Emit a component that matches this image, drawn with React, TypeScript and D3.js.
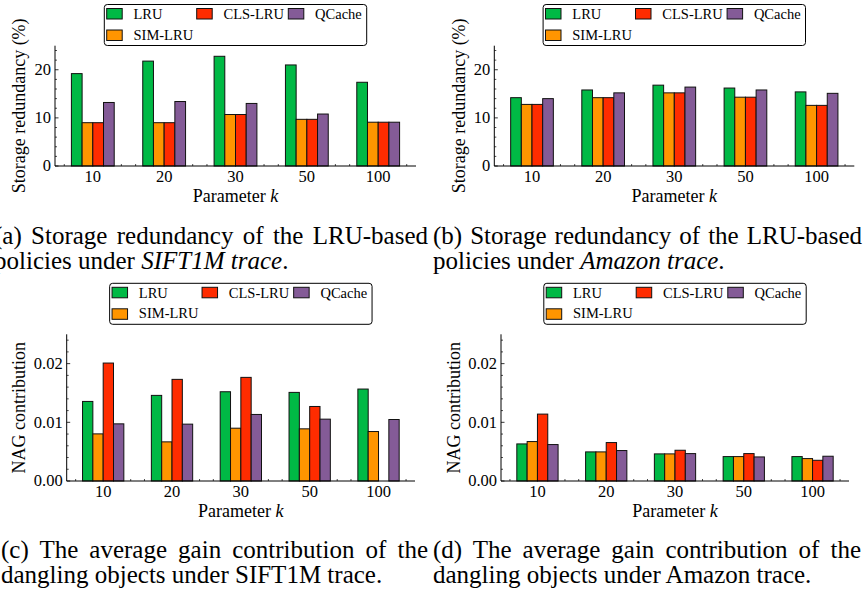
import React, { useLayoutEffect, useRef } from "react";
import * as d3 from "d3";

// ---------- data ----------
const kLabels = ["10", "20", "30", "50", "100"];
const seriesNames = ["LRU", "SIM-LRU", "CLS-LRU", "QCache"];
const seriesColors = ["#00B945", "#FF9500", "#FF2C00", "#845B97"];

// (a) storage redundancy (%) – SIFT1M
const siftRedundancyLRU = [19.2, 21.8, 22.8, 21.0, 17.4];
const siftRedundancySIM = [9.0, 9.0, 10.7, 9.7, 9.1];
const siftRedundancyCLS = [9.0, 9.0, 10.7, 9.7, 9.1];
const siftRedundancyQCache = [13.2, 13.4, 13.0, 10.8, 9.1];

// (b) storage redundancy (%) – Amazon
const amazonRedundancyLRU = [14.2, 15.8, 16.8, 16.2, 15.4];
const amazonRedundancySIM = [12.8, 14.2, 15.2, 14.3, 12.6];
const amazonRedundancyCLS = [12.8, 14.2, 15.2, 14.3, 12.6];
const amazonRedundancyQCache = [14.0, 15.2, 16.4, 15.8, 15.1];

// (c) NAG contribution – SIFT1M
const siftNagLRU = [0.01356, 0.01459, 0.01521, 0.0151, 0.01567];
const siftNagSIM = [0.00803, 0.00667, 0.009, 0.00889, 0.00843];
const siftNagCLS = [0.0201, 0.01732, 0.01766, 0.0127, 0.0];
const siftNagQCache = [0.00974, 0.00969, 0.01134, 0.01054, 0.01048];

// (d) NAG contribution – Amazon
const amazonNagLRU = [0.00632, 0.00496, 0.00462, 0.00416, 0.00416];
const amazonNagSIM = [0.00672, 0.00496, 0.00462, 0.00416, 0.00382];
const amazonNagCLS = [0.0114, 0.00655, 0.00524, 0.00467, 0.00353];
const amazonNagQCache = [0.00621, 0.00519, 0.00467, 0.0041, 0.00422];

const redundancyTicks = [0, 10, 20];
const nagTicks = [0, 0.01, 0.02];

// ---------- styling ----------
const W = 865;
const H = 595;
const SERIF = "Liberation Serif, Times New Roman, serif";

type PanelCfg = {
  x0: number;
  x1: number;
  yTop: number;
  yBase: number;
  yMax: number;
  yTicks: number[];
  yMinorStep: number;
  yFmt: (v: number) => string;
  yLabel: string;
  yLabelX: number;
  legendTop: number;
  series: number[][];
};

function Panel({ p }: { p: PanelCfg }) {
  const xs = d3.scaleLinear().domain([-0.53, 4.53]).range([p.x0, p.x1]);
  const ys = d3.scaleLinear().domain([0, p.yMax]).range([p.yBase, p.yTop]);
  const barW = 0.15;
  const xMajor = d3.range(kLabels.length);
  const xMinor = d3
    .range(-2, 23)
    .map((i) => i * 0.2)
    .filter((v) => Math.abs(v - Math.round(v)) > 1e-6);
  const majorStep = p.yTicks[1] - p.yTicks[0];
  const nMinor = Math.floor(p.yMax / p.yMinorStep + 1e-6);
  const yMinor = d3
    .range(0, nMinor + 1)
    .map((i) => i * p.yMinorStep)
    .filter((v) => Math.abs(v / majorStep - Math.round(v / majorStep)) > 1e-6);

  const cx = (p.x0 + p.x1) / 2;
  const legW = 262.4;
  const legH = 41;
  const lx = cx - legW / 2;
  const ly = p.legendTop;
  const legendItems = [
    { s: 0, col: 0, row: 0 },
    { s: 1, col: 0, row: 1 },
    { s: 2, col: 1, row: 0 },
    { s: 3, col: 2, row: 0 },
  ];
  const colPatchX = [2.4, 92.4, 184];
  const rowPatchY = [4, 25.5];
  const rowTextY = [14.2, 35];

  return (
    <g>
      {/* ticks (drawn below bars) */}
      {xMajor.map((v) => (
        <line key={"xM" + v} x1={xs(v)} x2={xs(v)} y1={p.yBase} y2={p.yBase - 3.5} stroke="#000" strokeWidth={0.8} />
      ))}
      {xMinor.map((v, i) => (
        <line key={"xm" + i} x1={xs(v)} x2={xs(v)} y1={p.yBase} y2={p.yBase - 2} stroke="#000" strokeWidth={0.7} />
      ))}
      {p.yTicks.map((v) => (
        <line key={"yM" + v} x1={p.x0} x2={p.x0 + 3.5} y1={ys(v)} y2={ys(v)} stroke="#000" strokeWidth={0.8} />
      ))}
      {yMinor.map((v, i) => (
        <line key={"ym" + i} x1={p.x0} x2={p.x0 + 2} y1={ys(v)} y2={ys(v)} stroke="#000" strokeWidth={0.7} />
      ))}

      {/* bars */}
      {p.series.map((vals, s) =>
        vals.map((v, i) => {
          const xl = xs(i - 0.3 + s * barW);
          const xr = xs(i - 0.3 + (s + 1) * barW);
          return (
            <rect
              key={`b${s}-${i}`}
              x={xl}
              y={ys(v)}
              width={xr - xl}
              height={ys(0) - ys(v)}
              fill={seriesColors[s]}
              stroke="#111"
              strokeWidth={1}
            />
          );
        })
      )}

      {/* spines */}
      <line x1={p.x0} x2={p.x0} y1={p.yTop} y2={p.yBase} stroke="#000" strokeWidth={1} />
      <line x1={p.x0} x2={p.x1} y1={p.yBase} y2={p.yBase} stroke="#000" strokeWidth={1} />

      {/* tick labels */}
      {xMajor.map((v) => (
        <text key={"xl" + v} x={xs(v)} y={p.yBase + 15.7} textAnchor="middle" fontFamily={SERIF} fontSize={16.5} fill="#000">
          {kLabels[v]}
        </text>
      ))}
      {p.yTicks.map((v) => (
        <text key={"yl" + v} x={p.x0 - 4} y={ys(v)} dy="0.33em" textAnchor="end" fontFamily={SERIF} fontSize={16.5} fill="#000">
          {p.yFmt(v)}
        </text>
      ))}

      {/* axis labels */}
      <text x={cx} y={p.yBase + 35.7} textAnchor="middle" fontFamily={SERIF} fontSize={18} fill="#000">
        Parameter <tspan fontStyle="italic">k</tspan>
      </text>
      <text
        transform={`translate(${p.yLabelX},${(p.yTop + p.yBase) / 2}) rotate(-90)`}
        dy="0.3em"
        textAnchor="middle"
        fontFamily={SERIF}
        fontSize={18}
        fill="#000"
      >
        {p.yLabel}
      </text>

      {/* legend */}
      <rect x={lx} y={ly} width={legW} height={legH} rx={3} ry={3} fill="#fff" stroke="#000" strokeWidth={1} />
      {legendItems.map((it) => (
        <g key={"lg" + it.s}>
          <rect
            x={lx + colPatchX[it.col]}
            y={ly + rowPatchY[it.row]}
            width={15.5}
            height={10.5}
            fill={seriesColors[it.s]}
            stroke="#111"
            strokeWidth={1}
          />
          <text x={lx + colPatchX[it.col] + 26.8} y={ly + rowTextY[it.row]} fontFamily={SERIF} fontSize={14.5} fill="#000">
            {seriesNames[it.s]}
          </text>
        </g>
      ))}
    </g>
  );
}

function JLine({
  x,
  y,
  width,
  justify,
  children,
}: {
  x: number;
  y: number;
  width: number;
  justify: boolean;
  children: React.ReactNode;
}) {
  const ref = useRef<SVGTextElement>(null);
  useLayoutEffect(() => {
    const el = ref.current;
    if (!el || !justify) return;
    el.setAttribute("word-spacing", "0");
    const nat = el.getComputedTextLength();
    const spaces = (el.textContent || "").split(" ").length - 1;
    if (spaces > 0) el.setAttribute("word-spacing", String((width - nat) / spaces));
  }, [width, justify]);
  return (
    <text ref={ref} x={x} y={y} fontFamily={SERIF} fontSize={25} fill="#000">
      {children}
    </text>
  );
}

const redundancyFmt = (v: number) => d3.format("d")(v);
const nagFmt = (v: number) => d3.format(".2f")(v);

const panels: PanelCfg[] = [
  {
    x0: 55,
    x1: 416,
    yTop: 45.7,
    yBase: 166,
    yMax: 25,
    yTicks: redundancyTicks,
    yMinorStep: 2,
    yFmt: redundancyFmt,
    yLabel: "Storage redundancy (%)",
    yLabelX: 20,
    legendTop: 4.5,
    series: [siftRedundancyLRU, siftRedundancySIM, siftRedundancyCLS, siftRedundancyQCache],
  },
  {
    x0: 494.3,
    x1: 854.3,
    yTop: 45.7,
    yBase: 166,
    yMax: 25,
    yTicks: redundancyTicks,
    yMinorStep: 2,
    yFmt: redundancyFmt,
    yLabel: "Storage redundancy (%)",
    yLabelX: 460,
    legendTop: 4.5,
    series: [amazonRedundancyLRU, amazonRedundancySIM, amazonRedundancyCLS, amazonRedundancyQCache],
  },
  {
    x0: 66.7,
    x1: 415,
    yTop: 334.3,
    yBase: 481,
    yMax: 0.025,
    yTicks: nagTicks,
    yMinorStep: 0.002,
    yFmt: nagFmt,
    yLabel: "NAG contribution",
    yLabelX: 19.7,
    legendTop: 283.3,
    series: [siftNagLRU, siftNagSIM, siftNagCLS, siftNagQCache],
  },
  {
    x0: 501,
    x1: 849,
    yTop: 334.3,
    yBase: 481,
    yMax: 0.025,
    yTicks: nagTicks,
    yMinorStep: 0.002,
    yFmt: nagFmt,
    yLabel: "NAG contribution",
    yLabelX: 455,
    legendTop: 283.3,
    series: [amazonNagLRU, amazonNagSIM, amazonNagCLS, amazonNagQCache],
  },
];

export default function App() {
  return (
    <svg
      width={W}
      height={H}
      viewBox={`0 0 ${W} ${H}`}
      style={{ position: "absolute", left: 0, top: 0, background: "#fff" }}
    >
      <rect x={0} y={0} width={W} height={H} fill="#fff" />
      {panels.map((p, i) => (
        <Panel key={i} p={p} />
      ))}

      {/* captions */}
      <JLine x={-6} y={243.5} width={434} justify>
        (a) Storage redundancy of the LRU-based
      </JLine>
      <JLine x={-6} y={268.5} width={0} justify={false}>
        policies under <tspan fontStyle="italic">SIFT1M trace</tspan>.
      </JLine>
      <JLine x={433} y={243.5} width={429} justify>
        (b) Storage redundancy of the LRU-based
      </JLine>
      <JLine x={433} y={268.5} width={0} justify={false}>
        policies under <tspan fontStyle="italic">Amazon trace</tspan>.
      </JLine>
      <JLine x={1} y={558} width={427} justify>
        (c) The average gain contribution of the
      </JLine>
      <JLine x={1} y={583} width={0} justify={false}>
        dangling objects under SIFT1M trace.
      </JLine>
      <JLine x={433} y={558} width={428} justify>
        (d) The average gain contribution of the
      </JLine>
      <JLine x={433} y={583} width={0} justify={false}>
        dangling objects under Amazon trace.
      </JLine>
    </svg>
  );
}
